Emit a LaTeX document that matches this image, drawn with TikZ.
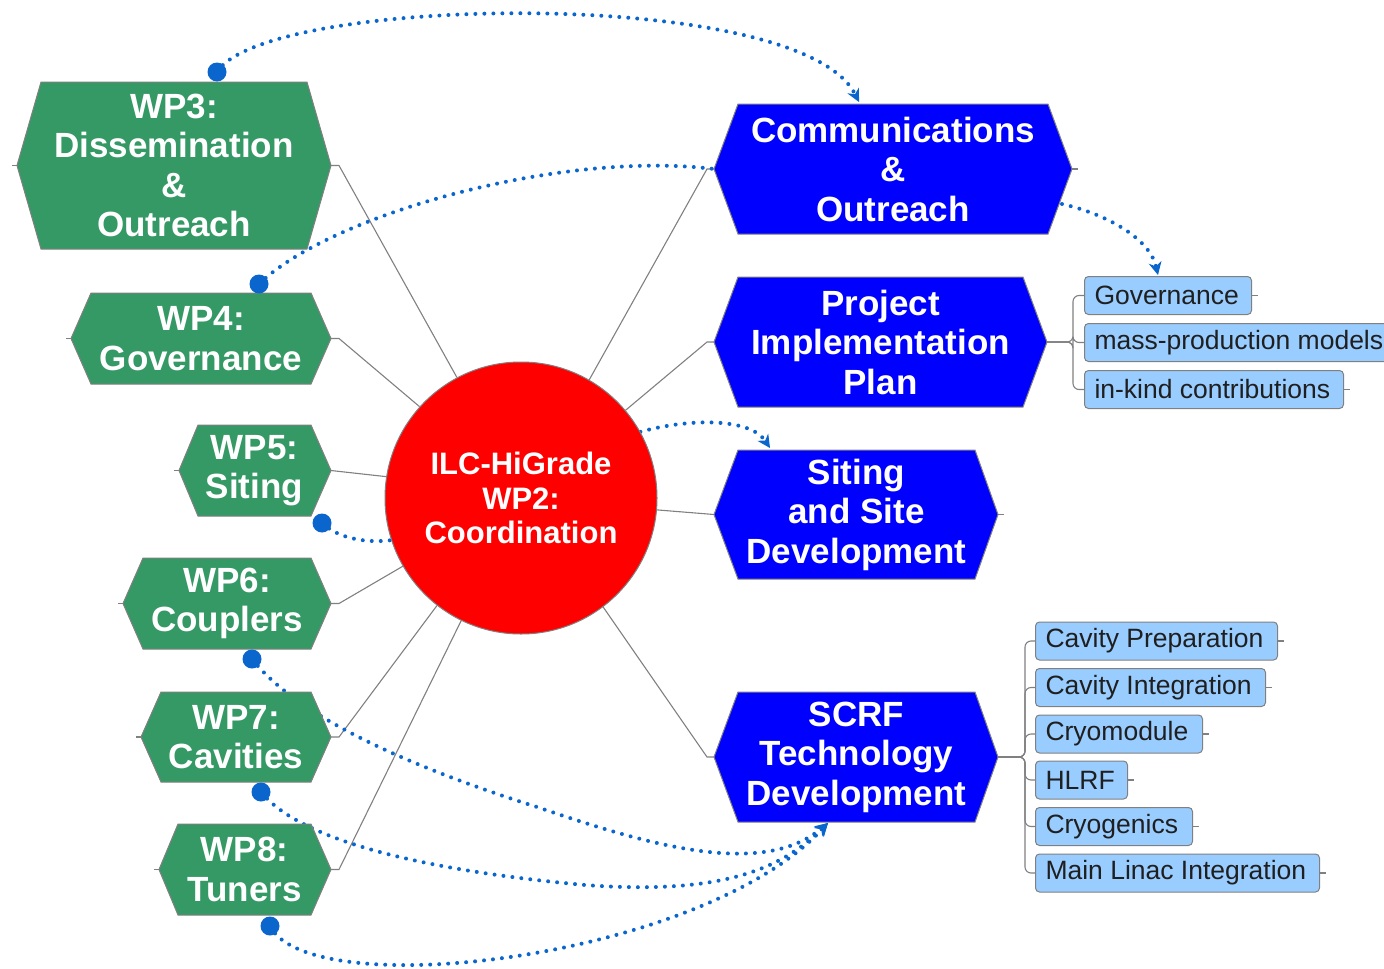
\documentclass[tikz,border=0pt]{standalone}
\usepackage{fontspec}
\setmainfont{Liberation Sans}
\usetikzlibrary{arrows.meta,backgrounds}
\definecolor{wpgreen}{RGB}{53,153,102}
\definecolor{boxblue}{RGB}{0,0,255}
\definecolor{dotblue}{RGB}{10,102,204}
\definecolor{subfill}{RGB}{153,204,255}
\definecolor{edgegray}{RGB}{128,128,128}
\tikzset{
  hexline/.style={draw=edgegray, line width=1pt},
  hextext/.style={text=white, font=\bfseries\fontsize{35}{39.5}\selectfont, align=center, inner sep=0pt},
  spoke/.style={draw=edgegray, line width=1.1pt},
  dotlink/.style={draw=dotblue, line width=4pt, line cap=round, dash pattern=on 0pt off 9pt},
  dotarrow/.style={dotlink, -{Stealth[length=13pt,width=13pt,line width=1pt]}},
  startdot/.style={circle, fill=dotblue, inner sep=0pt, minimum size=19pt},
  subbox/.style={draw=edgegray, fill=subfill, rounded corners=4pt, line width=1pt,
    minimum height=38pt, inner xsep=10pt, inner ysep=0pt, anchor=west,
    text=black!88, font=\fontsize{26.5}{30}\selectfont},
  hub/.style={circle, minimum size=272pt, inner sep=0pt, fill=red, draw=edgegray, line width=1pt,
    text=white, font=\bfseries\fontsize{31}{34.5}\selectfont, align=center},
}
% name, x-left-point, x-top-left, x-top-right, x-right-point, y-top, y-bottom, fill, text
\newcommand\myhex[9]{%
  \coordinate (#1-l) at (#2,{(#6+#7)/2});
  \coordinate (#1-r) at (#5,{(#6+#7)/2});
  \filldraw[hexline, fill=#8] (#1-l) -- (#3,#6) -- (#4,#6) -- (#1-r) -- (#4,#7) -- (#3,#7) -- cycle;
  \node[hextext] (#1) at ({(#3+#4)/2},{(#6+#7)/2}) {#9};
}
\newcommand\mysub[4]{%
  \node[subbox] (#1) at (#2) {\makebox[#3pt][l]{#4}};
  \draw[spoke] (#1.east) -- ++(6,0);
}
\begin{document}
\begin{tikzpicture}[x=1pt,y=-1pt]
\clip (0,0) rectangle (1384,969);

% central hub
\node[hub] (c) at (521,498) {ILC-HiGrade\\WP2:\\Coordination};

% left work packages
\myhex{wp3}{17}{41}{307}{331}{82}{249}{wpgreen}{WP3:\\Dissemination\\\&\\Outreach}
\myhex{wp4}{71}{91}{311}{331}{293}{384}{wpgreen}{WP4:\\Governance}
\myhex{wp5}{179}{198}{311}{331}{425}{516}{wpgreen}{WP5:\\Siting}
\myhex{wp6}{123}{143}{311}{331}{558}{649}{wpgreen}{WP6:\\Couplers}
\myhex{wp7}{141}{161}{311}{331}{692}{782}{wpgreen}{WP7:\\Cavities}
\myhex{wp8}{159}{178}{311}{331}{824}{915}{wpgreen}{WP8:\\Tuners}

% right topics
\myhex{comm}{714}{738}{1048}{1072}{104}{234}{boxblue}{Communications\\\&\\Outreach}
\myhex{pip}{714}{738}{1023}{1047}{277}{407}{boxblue}{Project\\Implementation\\Plan}
\myhex{site}{714}{738}{975}{998}{450}{579}{boxblue}{Siting\\and Site\\Development}
\myhex{scrf}{714}{738}{975}{998}{692}{822}{boxblue}{SCRF\\Technology\\Development}

% sub topics
\coordinate (pipfork) at (1073,342);
\mysub{gov}{1084,295.5}{147}{Governance}
\mysub{mass}{1084,342.5}{290}{mass-production models}
\mysub{inkind}{1084,389.5}{239}{in-kind contributions}

\coordinate (scrffork) at (1025,757);
\mysub{cp}{1035,641}{222}{Cavity Preparation}
\mysub{ci}{1035,687.5}{210}{Cavity Integration}
\mysub{cm}{1035,734}{147}{Cryomodule}
\mysub{hl}{1035,780}{72}{HLRF}
\mysub{cg}{1035,826.5}{137}{Cryogenics}
\mysub{ml}{1035,873}{264}{Main Linac Integration}

% start dots of the dotted relations
\node[startdot] (d3) at (217,72) {};
\node[startdot] (d4) at (259,284) {};
\node[startdot] (d5) at (322,523) {};
\node[startdot] (d6) at (252,659) {};
\node[startdot] (d7) at (261,792) {};
\node[startdot] (d8) at (270,926) {};

% arrow targets
\coordinate (commin) at (859,102);
\coordinate (govin) at (1158,275);
\coordinate (sitein) at (770,448);
\coordinate (scrfin) at (828,823);
\coordinate (commout) at (1062,204);

\begin{scope}[on background layer]
  % spokes from hub
  \draw[spoke] (c.118.6) -- ([xshift=8pt]wp3-r) -- (wp3-r);
  \draw[spoke] (c.138.9) -- ([xshift=8pt]wp4-r) -- (wp4-r);
  \draw[spoke] (c.171) -- (wp5-r);
  \draw[spoke] (c.210) -- ([xshift=8pt]wp6-r) -- (wp6-r);
  \draw[spoke] (c.232.5) -- ([xshift=8pt]wp7-r) -- (wp7-r);
  \draw[spoke] (c.244) -- ([xshift=8pt]wp8-r) -- (wp8-r);
  \draw[spoke] (c.60) -- ([xshift=-7pt]comm-l) -- (comm-l);
  \draw[spoke] (c.40) -- ([xshift=-7pt]pip-l) -- (pip-l);
  \draw[spoke] (c.-5) -- (site-l);
  \draw[spoke] (c.-53.3) -- ([xshift=-7pt]scrf-l) -- (scrf-l);
  % small stubs
  \foreach \n in {wp3,wp4,wp5,wp6,wp7,wp8}{\draw[spoke] (\n-l) -- ++(-5,0);}
  \draw[spoke] (comm-r) -- ++(6,0);
  \draw[spoke] (site-r) -- ++(6,0);
  % sub-topic brackets
  \foreach \s in {gov,mass,inkind}{\draw[spoke, rounded corners=6pt] (pip-r) -- (pipfork) |- (\s.west);}
  \foreach \s in {cp,ci,cm,hl,cg,ml}{\draw[spoke, rounded corners=6pt] (scrf-r) -- (scrffork) |- (\s.west);}

  % dotted relations
  \draw[dotarrow] (d3.center) .. controls (265,-5) and (800,-15) .. (commin);
  \draw[dotlink] (d4.center) .. controls (330,215) and (560,150) .. (comm-l);
  \draw[dotlink] (d5.center) .. controls (340,540) and (370,543) .. (c.198);
  \draw[dotarrow] (c.29.5) .. controls (690,418) and (750,418) .. (sitein);
  \draw[dotarrow] (commout) .. controls (1110,215) and (1150,240) .. (govin);
  \draw[dotarrow] (d6.center) .. controls (300,720) and (420,770) .. (537,807)
                 .. controls (640,842) and (760,880) .. (scrfin);
  \draw[dotarrow] (d7.center) .. controls (300,840) and (420,870) .. (585,885)
                 .. controls (720,895) and (780,870) .. (scrfin);
  \draw[dotarrow] (d8.center) .. controls (310,1005) and (700,960) .. (scrfin);
\end{scope}
\end{tikzpicture}
\end{document}
